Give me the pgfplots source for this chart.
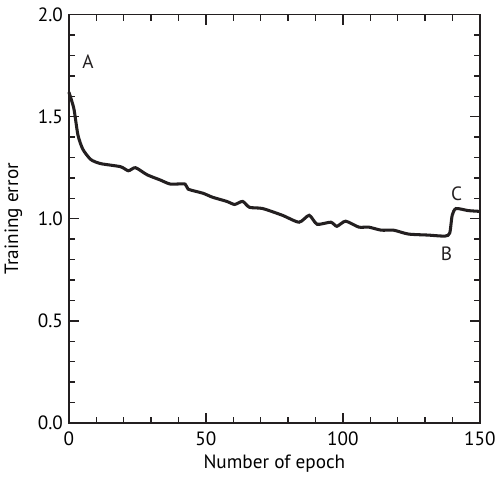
\documentclass[border=0pt]{standalone}
\usepackage{pgfplots}
\pgfplotsset{compat=1.18}
\usepackage{fontspec}
\setmainfont{PT Sans}
\definecolor{ink}{RGB}{35,31,32}

\begin{document}
\begin{tikzpicture}[font=\fontsize{14.5}{17}\selectfont]
\begin{axis}[
  scale only axis,
  width=310pt, height=308pt,
  xmin=0, xmax=150, ymin=0, ymax=2,
  xtick={0,50,100,150},
  minor xtick={10,20,30,40,60,70,80,90,110,120,130,140},
  ytick={0,0.5,1,1.5,2},
  minor ytick={0.1,0.2,0.3,0.4,0.6,0.7,0.8,0.9,1.1,1.2,1.3,1.4,1.6,1.7,1.8,1.9},
  yticklabel style={xshift=-1pt, /pgf/number format/.cd, fixed, fixed zerofill, precision=1},
  /pgf/number format/assume math mode=true,
  tick align=inside,
  tickwidth=7.5pt,
  subtickwidth=4.5pt,
  major tick style={draw=ink, line width=1.1pt},
  minor tick style={draw=ink, line width=1.1pt},
  axis line style={ink, line width=1.3pt},
  xlabel={Number of epoch},
  ylabel={Training error},
  xticklabel style={yshift=-3pt},
  xlabel style={yshift=0pt},
  ylabel style={yshift=5pt},
  clip=false,
]
\addplot[ink, line width=2.3pt, smooth, tension=0.4] coordinates {
(0,1.62) (1.8,1.54) (3.3,1.41) (5.1,1.34) (8,1.29) (11.6,1.27)
(18.8,1.255) (21.7,1.235) (24.3,1.25) (28.6,1.215) (33.3,1.19)
(37,1.17) (42.4,1.17) (43.5,1.145) (48.9,1.125) (52.5,1.105)
(57.6,1.085) (60.5,1.07) (63.4,1.085) (65.9,1.056) (70.7,1.05)
(77.9,1.017) (84,0.983) (87.7,1.017) (90.6,0.973) (95.6,0.983)
(97.8,0.963) (101,0.988) (105.8,0.959) (109.4,0.959) (114,0.944)
(118.5,0.944) (123.9,0.925) (131,0.92) (137.3,0.915) (139,0.93)
(139.9,1.017) (141.3,1.05) (145.7,1.04) (150,1.036)
};
\node[ink] at (axis cs:7,1.77) {A};
\node[ink] at (axis cs:137.8,0.83) {B};
\node[ink] at (axis cs:141.5,1.12) {C};
% margins as in the reference
\path (rel axis cs:0,1) ++(0,11pt) coordinate (topm);
\path (rel axis cs:1,0) ++(13.5pt,-38pt) coordinate (brm);
\end{axis}
\end{tikzpicture}
\end{document}
